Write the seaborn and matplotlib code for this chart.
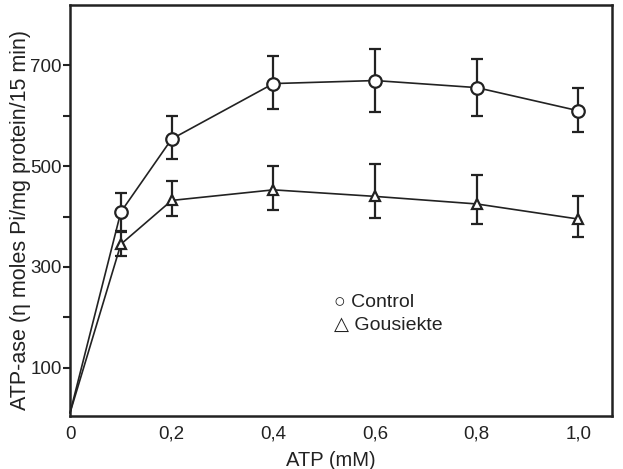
import numpy as np
import pandas as pd
import matplotlib
matplotlib.use("Agg")
import matplotlib.pyplot as plt
import seaborn as sns

# ---- data ----
atp = [0.0, 0.1, 0.2, 0.4, 0.6, 0.8, 1.0]
control = [10, 409, 554, 664, 670, 656, 610]
control_hi = [np.nan, 446, 600, 718, 732, 712, 656]
control_lo = [np.nan, 372, 514, 614, 608, 600, 568]
gous = [10, 345, 432, 453, 440, 425, 395]
gous_hi = [np.nan, 370, 471, 501, 504, 482, 440]
gous_lo = [np.nan, 322, 401, 413, 397, 385, 359]
xticks = [0, 0.2, 0.4, 0.6, 0.8, 1.0]
xticklabels = ["0", "0,2", "0,4", "0,6", "0,8", "1,0"]
yticks = [100, 300, 500, 700]
yminor = [200, 400, 600]

sns.set_style("white")
plt.rcParams['font.family'] = ['Liberation Sans', 'DejaVu Sans']
ink = "#222222"

fig = plt.figure(figsize=(6.23, 4.69), dpi=100)
ax = fig.add_axes([70/623, 1-416/469, (612-70)/623, (416-5)/469])

df = pd.DataFrame({"ATP": atp * 2,
                   "val": control + gous,
                   "grp": ["Control"] * len(atp) + ["Gousiekte"] * len(atp)})

# error bars
for y, hi, lo in [(control, control_hi, control_lo), (gous, gous_hi, gous_lo)]:
    y = np.array(y, float); hi = np.array(hi, float); lo = np.array(lo, float)
    ax.errorbar(atp, y, yerr=[y - lo, hi - y], fmt="none", ecolor=ink,
                elinewidth=1.6, capsize=4.5, capthick=1.6, zorder=2)

sns.lineplot(data=df, x="ATP", y="val", hue="grp", style="grp",
             markers={"Control": "o", "Gousiekte": "^"}, dashes=False,
             palette={"Control": ink, "Gousiekte": ink}, ax=ax, legend=False,
             linewidth=1.2, zorder=3)
# marker styling (no marker at the origin)
for line, ms in zip(ax.lines[-2:], [9, 6.5]):
    line.set_markerfacecolor("white")
    line.set_markeredgecolor(ink)
    line.set_markeredgewidth(1.6)
    line.set_markersize(ms)
    line.set_markevery(list(range(1, len(atp))))
    line.set_clip_on(False)

ax.set_xlim(0, 1.066)
ax.set_ylim(4, 820)
ax.set_xticks(xticks)
ax.set_xticklabels(xticklabels)
ax.set_yticks(yticks)
ax.set_yticks(yminor, minor=True)
ax.tick_params(axis="x", direction="in", length=4, width=1.5, colors=ink,
               labelsize=13.5, pad=7)
ax.tick_params(axis="y", which="both", direction="out", length=5, width=1.5,
               colors=ink, labelsize=13.5, pad=1, left=True)
for s in ax.spines.values():
    s.set_color(ink)
    s.set_linewidth(1.8)

ax.set_xlabel("ATP (mM)", fontsize=14.5, color=ink, labelpad=3)
ax.set_ylabel("ATP-ase (η moles Pi/mg protein/15 min)", fontsize=15.5,
              color=ink)
ax.yaxis.set_label_coords(-0.072, 0.477)
ax.xaxis.set_label_coords(0.482, -0.085)

ax.text(0.52, 229, "○ Control", fontsize=14, color=ink, va="center",
        family=['Liberation Sans', 'DejaVu Sans'])
ax.text(0.52, 183, "△ Gousiekte", fontsize=14, color=ink, va="center",
        family=['Liberation Sans', 'DejaVu Sans'])

fig.savefig("out.png", dpi=100, facecolor="white")
